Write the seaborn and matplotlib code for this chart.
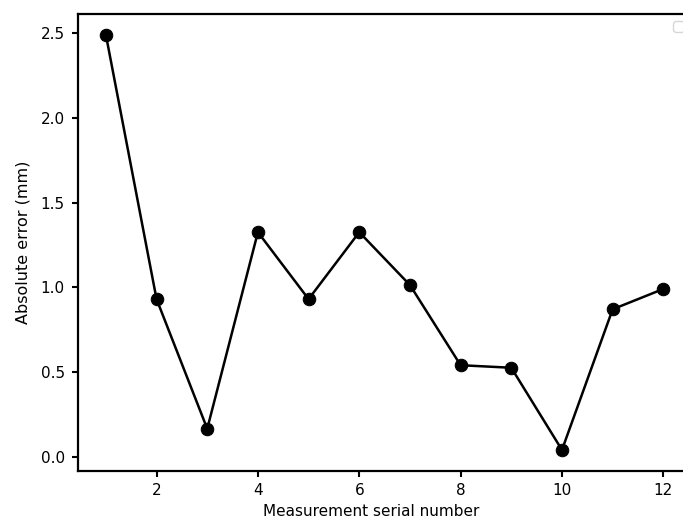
import matplotlib
matplotlib.use("Agg")
import matplotlib.pyplot as plt
import seaborn as sns
import pandas as pd

serial = [1, 2, 3, 4, 5, 6, 7, 8, 9, 10, 11, 12]
abs_error = [2.49, 0.93, 0.165, 1.325, 0.93, 1.325, 1.013, 0.54, 0.525, 0.04, 0.87, 0.99]

df = pd.DataFrame({"serial": serial, "err": abs_error})

sns.set_style("ticks")
plt.rcParams["font.family"] = ["DejaVu Sans"]
plt.rcParams["text.color"] = "black"
plt.rcParams["axes.labelcolor"] = "black"

fig = plt.figure(figsize=(6.83, 5.23), dpi=100)
ax = fig.add_axes([78 / 683, 1 - 470.7 / 523, (691.2 - 78) / 683, (470.7 - 14) / 523])

sns.lineplot(data=df, x="serial", y="err", ax=ax, color="black",
             marker="o", markersize=9, linewidth=1.8, markeredgecolor="black")

ax.set_xlabel("Measurement serial number", fontsize=11, color="black")
ax.set_ylabel("Absolute error (mm)", fontsize=11.5, color="black", labelpad=7.5)
ax.xaxis.set_label_coords((371.3 - 78) / (691.2 - 78), -0.073)
ax.set_xticks([2, 4, 6, 8, 10, 12])
ax.set_yticks([0.0, 0.5, 1.0, 1.5, 2.0, 2.5])
ax.set_yticklabels(["0.0", "0.5", "1.0", "1.5", "2.0", "2.5"])
ax.set_xlim(0.45, 12.55)
ax.set_ylim(-0.0825, 2.6125)
for s in ax.spines.values():
    s.set_linewidth(1.6)
    s.set_color("black")
ax.spines["right"].set_visible(False)
ax.tick_params(width=1.5, length=4, labelsize=11, colors="black")
ax.tick_params(axis="y", pad=5.5)
ax.tick_params(axis="x", pad=5)
ax.legend(loc="upper right")

fig.savefig("out.png", dpi=100)
